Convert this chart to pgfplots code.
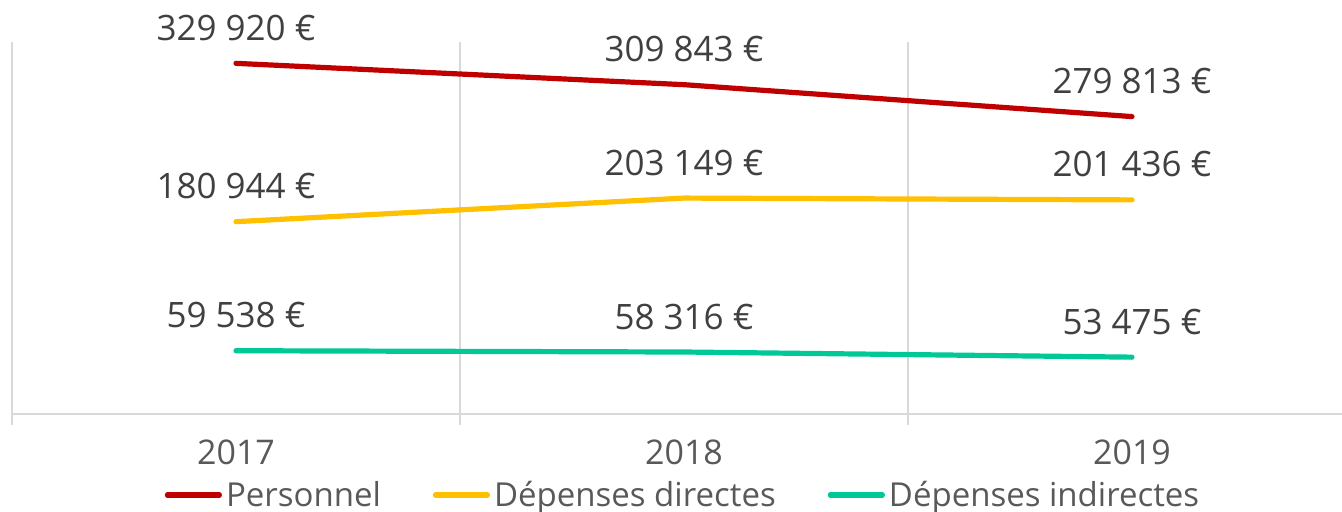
\documentclass[border=0pt]{standalone}
\usepackage{fontspec}
\setmainfont{Open Sans}
\usepackage{pgfplots}
\pgfplotsset{compat=1.18}
\usetikzlibrary{calc}
\definecolor{cred}{HTML}{C00000}
\definecolor{cyel}{HTML}{FFC000}
\definecolor{cteal}{HTML}{00C896}
\definecolor{cgrid}{HTML}{D9D9D9}
\definecolor{clab}{HTML}{404040}
\definecolor{ctick}{HTML}{595959}
\begin{document}
\begin{tikzpicture}
\begin{axis}[name=ax,
  width=672pt, height=186pt, scale only axis,
  xmin=-0.5, xmax=2.5, ymin=0, ymax=350000,
  clip=false,
  axis y line=none, axis x line*=bottom,
  x axis line style={draw=cgrid, line width=1pt},
  xtick={0,1,2}, xticklabels={2017,2018,2019},
  major tick length=0pt,
  minor xtick={-0.5,0.5,1.5},
  minor tick length=5.5pt, tick align=outside,
  minor x tick style={draw=cgrid, line width=1pt},
  xminorgrids=true,
  minor x grid style={draw=cgrid, line width=1pt},
  xticklabel style={font=\fontsize{17}{20}\selectfont, text=ctick, yshift=-9.5pt},
  point meta=explicit symbolic,
  nodes near coords,
  nodes near coords style={anchor=base, yshift=11.5pt, font=\fontsize{17.5}{20}\selectfont, text=clab},
  legend columns=3,
  legend style={draw=none, fill=none, at={(0.5,0)}, anchor=center, yshift=-40.5pt,
    font=\fontsize{16.5}{20}\selectfont, text=ctick,
    /tikz/every even column/.append style={column sep=24pt}},
  legend image code/.code={\draw[#1, line width=2.6pt, line cap=round] (0pt,0pt) -- (26pt,0pt);},
]
\addplot[cred, line width=2.6pt, line cap=round] coordinates {(0,329920) [329 920 €] (1,309843) [309 843 €] (2,279813) [279 813 €]};
\addlegendentry{Personnel}
\addplot[cyel, line width=2.6pt, line cap=round] coordinates {(0,180944) [180 944 €] (1,203149) [203 149 €] (2,201436) [201 436 €]};
\addlegendentry{Dépenses directes}
\addplot[cteal, line width=2.6pt, line cap=round] coordinates {(0,59538) [59 538 €] (1,58316) [58 316 €] (2,53475) [53 475 €]};
\addlegendentry{Dépenses indirectes}
\end{axis}
\pgfresetboundingbox
\path[use as bounding box] ($(ax.south west)+(-6pt,-49pt)$) rectangle ++(671pt,256pt);
\end{tikzpicture}
\end{document}
